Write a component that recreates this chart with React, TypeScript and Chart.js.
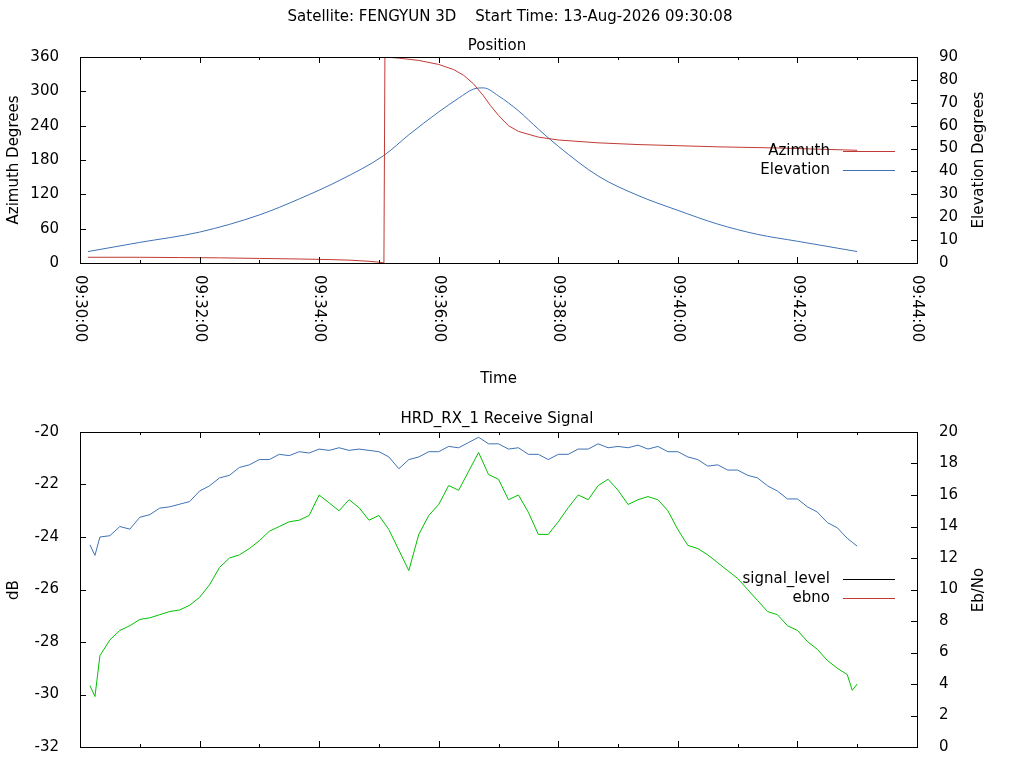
import React, { useEffect, useRef } from "react";
import { Chart, registerables } from "chart.js";
Chart.register(...registerables);

const FONT = "'DejaVu Sans', sans-serif";
const BLUE = "#3f72b4";
const RED = "#c03a35";
const GREEN = "#00c000";

// Position panel (t in seconds after 09:30:00)
const azTime = [8, 60, 100, 140, 180, 220, 250, 270, 290, 300, 304, 305, 306, 320, 340, 360, 375, 385, 395, 405, 412, 420, 430, 440, 460, 480, 520, 560, 600, 640, 700, 740, 780];
const azValues = [10, 10, 9.5, 9, 8, 7, 6, 5, 3, 1.5, 0.5, 0, 360, 358, 354, 347, 338, 328, 313, 292, 275, 258, 240, 230, 220, 215, 210, 207, 205, 203, 201, 199, 197];
const elTime = [8, 60, 120, 180, 220, 260, 305, 330, 360, 380, 395, 405, 420, 440, 460, 480, 520, 560, 600, 640, 680, 720, 760, 780];
const elValues = [5, 9, 13.5, 21, 28, 36, 47, 56, 66, 72, 76, 76.5, 73, 66.5, 58.5, 51, 38, 29.5, 23, 17, 12.5, 9.5, 6.5, 5];

// Signal panel
const sigTime = [10, 15, 20, 30, 40, 50, 60, 70, 80, 90, 100, 110, 120, 130, 140, 150, 160, 170, 180, 190, 200, 210, 220, 230, 240, 250, 260, 270, 280, 290, 300, 310, 320, 330, 340, 350, 360, 370, 380, 390, 400, 410, 420, 430, 440, 450, 460, 470, 480, 490, 500, 510, 520, 530, 540, 550, 560, 570, 580, 590, 600, 610, 620, 630, 640, 650, 660, 670, 680, 690, 700, 710, 720, 730, 740, 750, 760, 770, 775, 780];
const signalLevel = [-24.3, -24.7, -24.0, -23.95, -23.6, -23.7, -23.25, -23.15, -22.9, -22.85, -22.75, -22.65, -22.25, -22.05, -21.75, -21.65, -21.35, -21.25, -21.05, -21.05, -20.85, -20.9, -20.75, -20.8, -20.65, -20.7, -20.6, -20.7, -20.65, -20.7, -20.75, -20.95, -21.4, -21.05, -20.95, -20.75, -20.75, -20.55, -20.6, -20.4, -20.2, -20.45, -20.45, -20.65, -20.6, -20.85, -20.85, -21.05, -20.85, -20.85, -20.65, -20.65, -20.45, -20.6, -20.55, -20.6, -20.5, -20.65, -20.55, -20.75, -20.75, -20.95, -21.05, -21.3, -21.25, -21.45, -21.45, -21.65, -21.75, -22.05, -22.25, -22.55, -22.55, -22.85, -23.05, -23.45, -23.65, -24.05, -24.2, -24.35];
const ebno = [3.9, 3.2, 5.8, 6.8, 7.4, 7.7, 8.1, 8.2, 8.4, 8.6, 8.7, 9.0, 9.5, 10.3, 11.4, 12.0, 12.2, 12.6, 13.1, 13.7, 14.0, 14.3, 14.4, 14.7, 16.0, 15.5, 15.0, 15.7, 15.2, 14.4, 14.7, 13.8, 12.5, 11.2, 13.5, 14.7, 15.4, 16.6, 16.3, 17.5, 18.7, 17.3, 17.0, 15.7, 16.0, 14.9, 13.5, 13.5, 14.3, 15.2, 16.0, 15.7, 16.6, 17.0, 16.3, 15.4, 15.7, 15.9, 15.7, 15.0, 13.8, 12.8, 12.6, 12.2, 11.7, 11.2, 10.7, 10.0, 9.3, 8.6, 8.4, 7.7, 7.4, 6.7, 6.2, 5.5, 5.0, 4.6, 3.6, 4.0];

const xTicks = [0, 120, 240, 360, 480, 600, 720, 840];
const startLabel = "Satellite: FENGYUN 3D    Start Time: 13-Aug-2026 09:30:08";

function fmt(t: number) {
  const m = 30 + Math.floor(t / 60);
  const s = t % 60;
  return "09:" + String(m).padStart(2, "0") + ":" + String(s).padStart(2, "0");
}

type Cfg = {
  titles: { text: string; x: number; y: number }[];
  leftTitle: string; rightTitle: string; titleY: number;
  legend: { text: string; color: string }[]; legendY: number;
  xTitle?: { text: string; y: number };
  labelOffset: number;
};

function framePlugin(cfg: Cfg) {
  return {
    id: "frame",
    afterDraw(chart: any) {
      const c = chart.ctx as CanvasRenderingContext2D;
      const a = chart.chartArea;
      const x = chart.scales.x, yl = chart.scales.y, yr = chart.scales.y2;
      c.save();
      c.strokeStyle = "#000"; c.lineWidth = 1;
      c.strokeRect(Math.round(a.left) + 0.5, Math.round(a.top) + 0.5, Math.round(a.right - a.left), Math.round(a.bottom - a.top));
      c.beginPath();
      for (let t = 0; t <= 840; t += 60) {
        const px = Math.round(x.getPixelForValue(t)) + 0.5;
        const L = t % 120 === 0 ? 6 : 3;
        c.moveTo(px, a.bottom); c.lineTo(px, a.bottom - L);
        c.moveTo(px, a.top); c.lineTo(px, a.top + L);
      }
      yl.ticks.forEach((tk: any) => {
        const py = Math.round(yl.getPixelForValue(tk.value)) + 0.5;
        c.moveTo(a.left, py); c.lineTo(a.left + 6, py);
      });
      yr.ticks.forEach((tk: any) => {
        const py = Math.round(yr.getPixelForValue(tk.value)) + 0.5;
        c.moveTo(a.right, py); c.lineTo(a.right - 6, py);
      });
      c.stroke();
      c.fillStyle = "#000";
      c.font = "15px " + FONT;
      xTicks.forEach((t) => {
        const px = x.getPixelForValue(t);
        c.save(); c.translate(px, a.bottom + cfg.labelOffset); c.rotate(Math.PI / 2);
        c.textAlign = "left"; c.textBaseline = "middle";
        c.fillText(fmt(t), 0, 0); c.restore();
      });
      c.textAlign = "center"; c.textBaseline = "middle";
      cfg.titles.forEach((tt) => c.fillText(tt.text, tt.x, tt.y));
      if (cfg.xTitle) c.fillText(cfg.xTitle.text, (a.left + a.right) / 2, cfg.xTitle.y);
      c.save(); c.translate(14, cfg.titleY); c.rotate(-Math.PI / 2); c.fillText(cfg.leftTitle, 0, 0); c.restore();
      c.save(); c.translate(979, cfg.titleY); c.rotate(-Math.PI / 2); c.fillText(cfg.rightTitle, 0, 0); c.restore();
      cfg.legend.forEach((l, i) => {
        const ly = cfg.legendY + i * 19;
        c.textAlign = "right";
        c.fillStyle = "#000";
        c.fillText(l.text, 830, ly);
        c.strokeStyle = l.color;
        c.beginPath(); c.moveTo(843, Math.round(ly) + 0.5); c.lineTo(895, Math.round(ly) + 0.5); c.stroke();
      });
      c.restore();
    },
  };
}

function makeChart(canvas: HTMLCanvasElement, datasets: any[], yl: any, yr: any, top: number, bottom: number, height: number, cfg: Cfg) {
  const tickFont = { family: FONT, size: 15 };
  return new Chart(canvas, {
    type: "line",
    data: { datasets },
    plugins: [framePlugin(cfg)],
    options: {
      animation: false, responsive: false, maintainAspectRatio: false,
      layout: { padding: { top, bottom: 0, left: 0, right: 0 } },
      plugins: { legend: { display: false }, tooltip: { enabled: false } },
      elements: { point: { radius: 0 }, line: { borderWidth: 1 } },
      scales: {
        x: {
          type: "linear", min: 0, max: 840, grid: { display: false }, border: { display: false },
          ticks: { display: false },
          afterFit: (s: any) => { s.height = height - bottom; },
        },
        y: {
          position: "left", min: yl.min, max: yl.max, grid: { display: false }, border: { display: false },
          ticks: { stepSize: yl.step, padding: 13, color: "#000", font: tickFont },
          afterFit: (s: any) => { s.width = 80; },
        },
        y2: {
          position: "right", min: yr.min, max: yr.max, grid: { display: false }, border: { display: false },
          ticks: { stepSize: yr.step, padding: 14, color: "#000", font: tickFont },
          afterFit: (s: any) => { s.width = 107; },
        },
      },
    } as any,
  });
}

export default function App() {
  const r1 = useRef<HTMLCanvasElement>(null);
  const r2 = useRef<HTMLCanvasElement>(null);
  useEffect(() => {
    const c1 = makeChart(r1.current!, [
      { data: azTime.map((t, i) => ({ x: t, y: azValues[i] })), borderColor: RED, yAxisID: "y", tension: 0 },
      { data: elTime.map((t, i) => ({ x: t, y: elValues[i] })), borderColor: BLUE, yAxisID: "y2", cubicInterpolationMode: "monotone" },
    ], { min: 0, max: 360, step: 60 }, { min: 0, max: 90, step: 10 }, 57, 263, 400, {
      titles: [{ text: startLabel, x: 510, y: 17 }, { text: "Position", x: 497, y: 46 }],
      leftTitle: "Azimuth Degrees", rightTitle: "Elevation Degrees", titleY: 160,
      legend: [{ text: "Azimuth", color: RED }, { text: "Elevation", color: BLUE }], legendY: 151,
      xTitle: { text: "Time", y: 379 }, labelOffset: 12,
    });
    const c2 = makeChart(r2.current!, [
      { data: sigTime.map((t, i) => ({ x: t, y: signalLevel[i] })), borderColor: BLUE, yAxisID: "y" },
      { data: sigTime.map((t, i) => ({ x: t, y: ebno[i] })), borderColor: GREEN, yAxisID: "y2" },
    ], { min: -32, max: -20, step: 2 }, { min: 0, max: 20, step: 2 }, 32, 347, 480, {
      titles: [{ text: "HRD_RX_1 Receive Signal", x: 497, y: 19 }],
      leftTitle: "dB", rightTitle: "Eb/No", titleY: 190,
      legend: [{ text: "signal_level", color: "#000" }, { text: "ebno", color: RED }], legendY: 179,
      labelOffset: 30,
    });
    return () => { c1.destroy(); c2.destroy(); };
  }, []);
  return (
    <div style={{ position: "fixed", left: 0, top: 0, width: 1024, height: 768, overflow: "hidden", background: "#fff" }}>
      <canvas ref={r1} width={1024} height={400} style={{ position: "absolute", left: 0, top: 0 }} />
      <canvas ref={r2} width={1024} height={480} style={{ position: "absolute", left: 0, top: 400 }} />
    </div>
  );
}
